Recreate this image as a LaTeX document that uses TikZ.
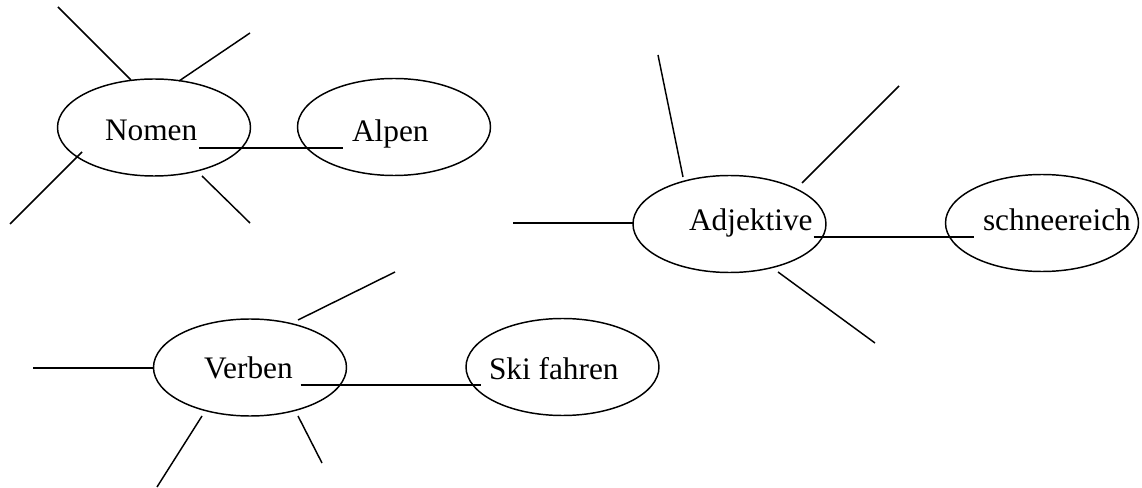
\documentclass[tikz,border=0pt]{standalone}
\usepackage{fontspec}
\setmainfont{Liberation Serif}
\usetikzlibrary{shapes.geometric,calc}
\begin{document}
\begin{tikzpicture}[x=0.75pt,y=-0.75pt,
  line width=1.1pt,
  bubble/.style={draw,ellipse,minimum width=144.75pt,minimum height=72.75pt,inner sep=0pt,outer sep=0pt},
  word/.style={anchor=base west,inner sep=0pt,outer sep=0pt,font=\fontsize{23.5}{28}\selectfont},
  spoke/.style={draw,line cap=butt},
  uline/.style={draw}]
\fill[white] (0,0) rectangle (1142,488);
\useasboundingbox (0,0) rectangle (1142,488);

% ellipses
\node[bubble] (nomen)  at (154,127.5) {};
\node[bubble] (alpen)  at (394,127) {};
\node[bubble] (adj)    at (729.5,224) {};
\node[bubble] (schnee) at (1042,223) {};
\node[bubble] (verben) at (250,367.5) {};
\node[bubble] (ski)    at (562.5,367) {};

% words
\node[word] (tnomen)  at (105,141) {Nomen};
\node[word] (talpen)  at (352,142) {Alpen};
\node[word] (tadj)    at (689,231) {Adjektive};
\node[word] (tschnee) at (983,231) {schneereich};
\node[word] (tverben) at (204,378) {Verben};
\node[word] (tski)    at (489,379) {Ski fahren};

% underline connectors
\draw[uline] ($(tnomen.base east)+(2,7)$) -- ($(talpen.base west)+(-9,6)$);
\draw[uline] ($(tadj.base east)+(1,6)$) -- ($(tschnee.base west)+(-9,6)$);
\draw[uline] ($(tverben.base east)+(8,7)$) -- ($(tski.base west)+(-8,6)$);

% free ends
\coordinate (n1) at (58,7);
\coordinate (n2) at (250,33);
\coordinate (n3) at (10,224);
\coordinate (n4) at (250,223);
\coordinate (a1) at (658,55);
\coordinate (a2) at (899,86);
\coordinate (a3) at (513,223);
\coordinate (a4) at (875,343);
\coordinate (v1) at (33,368);
\coordinate (v2) at (395,272);
\coordinate (v3) at (157,487);
\coordinate (v4) at (322,463);

% spokes
\draw[spoke] ($(nomen.center)+(-23,-47.5)$) -- (n1);
\draw[spoke] ($(nomen.center)+(25,-46.5)$) -- (n2);
\draw[spoke] ($(nomen.center)+(-72,24.5)$) -- (n3);
\draw[spoke] ($(nomen.center)+(48,48.5)$) -- (n4);
\draw[spoke] ($(adj.center)+(-46.5,-47)$) -- (a1);
\draw[spoke] ($(adj.center)+(72.5,-41)$) -- (a2);
\draw[spoke] ($(adj.center)+(-95.5,-1)$) -- (a3);
\draw[spoke] ($(adj.center)+(48.5,48)$) -- (a4);
\draw[spoke] ($(verben.center)+(-97,0.5)$) -- (v1);
\draw[spoke] ($(verben.center)+(48,-47.5)$) -- (v2);
\draw[spoke] ($(verben.center)+(-48,48.5)$) -- (v3);
\draw[spoke] ($(verben.center)+(48,48.5)$) -- (v4);
\end{tikzpicture}
\end{document}
